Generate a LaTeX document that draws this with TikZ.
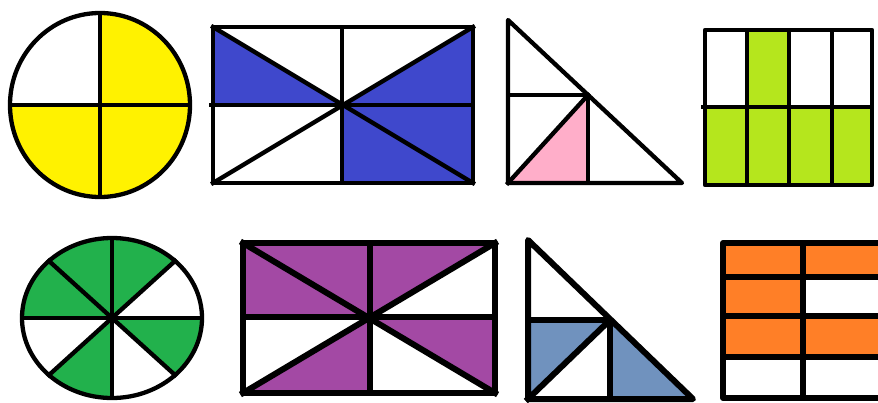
\documentclass[tikz,border=0pt]{standalone}
\begin{document}
\begin{tikzpicture}[x=1pt,y=-1pt,line join=round,line cap=rect]
\definecolor{cyel}{HTML}{FFF200}
\definecolor{cblue}{HTML}{3F48CC}
\definecolor{cpink}{HTML}{FFAEC9}
\definecolor{clime}{HTML}{B5E61D}
\definecolor{cgreen}{HTML}{22B14C}
\definecolor{cpurple}{HTML}{A349A4}
\definecolor{csteel}{HTML}{7092BE}
\definecolor{corange}{HTML}{FF7F27}
\tikzset{thin line/.style={line width=4.3pt},thick line/.style={line width=6pt}}
\useasboundingbox (0,0) rectangle (878,402);
\fill[white] (0,0) rectangle (878,402);
\clip (0,0) rectangle (878,402);

% 1: yellow circle
\begin{scope}
\clip (100,105) ellipse [x radius=90, y radius=92];
\fill[cyel] (100,105) rectangle (200,0);
\fill[cyel] (0,105) rectangle (200,210);
\end{scope}
\draw[thin line] (100,105) ellipse [x radius=90, y radius=92];
\draw[thin line] (100,13) -- (100,197);
\draw[thin line] (10,105) -- (190,105);

% 2: blue rectangle
\fill[cblue] (213,27) -- (342,105) -- (213,105) -- cycle;
\fill[cblue] (473,27) -- (342,105) -- (473,105) -- cycle;
\fill[cblue] (342,105) rectangle (473,183);
\draw[thin line] (213,27) rectangle (473,183);
\draw[thin line] (342,27) -- (342,183);
\draw[thin line] (211,105) -- (473,105);
\draw[thin line] (213,27) -- (473,183);
\draw[thin line] (213,183) -- (473,27);

% 3: pink triangle
\fill[cpink] (508,183) -- (588,95) -- (588,183) -- cycle;
\draw[thin line] (508,20) -- (508,183) -- (682,183) -- cycle;
\draw[thin line] (508,95) -- (588,95) -- (588,183);
\draw[thin line] (508,183) -- (588,95);

% 4: lime grid
\fill[clime] (747,30) rectangle (789,107);
\fill[clime] (705,107) rectangle (872,185);
\draw[thin line] (705,30) rectangle (872,185);
\draw[thin line] (747,30) -- (747,185);
\draw[thin line] (789,30) -- (789,185);
\draw[thin line] (832,30) -- (832,185);
\draw[thin line] (703,107) -- (872,107);

% 5: green circle
\begin{scope}
\clip (112,318) ellipse [x radius=90, y radius=80];
\fill[cgreen] (112,318) -- ++(126,-114) -- ++(-126,-100) -- cycle;
\fill[cgreen] (112,318) -- ++(0,-200) -- ++(-126,86) -- cycle;
\fill[cgreen] (112,318) -- ++(-126,-114) -- ++(-100,114) -- cycle;
\fill[cgreen] (112,318) -- ++(-126,114) -- ++(126,100) -- cycle;
\fill[cgreen] (112,318) -- ++(126,114) -- ++(100,-114) -- cycle;
\end{scope}
\draw[thin line] (112,318) ellipse [x radius=90, y radius=80];
\draw[thin line] (112,238) -- (112,398);
\draw[thin line] (22,318) -- (202,318);
\draw[thin line] (49,261) -- (175,375);
\draw[thin line] (49,375) -- (175,261);

% 6: purple rectangle
\fill[cpurple] (243,243) rectangle (370,317);
\fill[cpurple] (370,243) -- (495,243) -- (370,317) -- cycle;
\fill[cpurple] (370,317) -- (370,393) -- (243,393) -- cycle;
\fill[cpurple] (370,317) -- (495,317) -- (495,393) -- cycle;
\draw[thick line] (243,243) rectangle (495,393);
\draw[thick line] (370,243) -- (370,393);
\draw[thick line] (243,317) -- (495,317);
\draw[thick line] (243,243) -- (495,393);
\draw[thick line] (243,393) -- (495,243);

% 7: steel-blue triangle
\fill[csteel] (528,320) -- (610,320) -- (528,399) -- cycle;
\fill[csteel] (610,320) -- (610,399) -- (693,399) -- cycle;
\draw[thick line] (528,240) -- (528,399) -- (693,399) -- cycle;
\draw[thick line] (528,320) -- (610,320) -- (610,399);
\draw[thick line] (528,399) -- (610,320);

% 8: orange grid
\fill[corange] (723,243) rectangle (900,277);
\fill[corange] (723,277) rectangle (803,316);
\fill[corange] (723,316) rectangle (900,357);
\draw[thick line] (723,243) rectangle (900,398);
\draw[thick line] (803,243) -- (803,398);
\draw[thick line] (723,277) -- (900,277);
\draw[thick line] (723,316) -- (900,316);
\draw[thick line] (723,357) -- (900,357);
\end{tikzpicture}
\end{document}
